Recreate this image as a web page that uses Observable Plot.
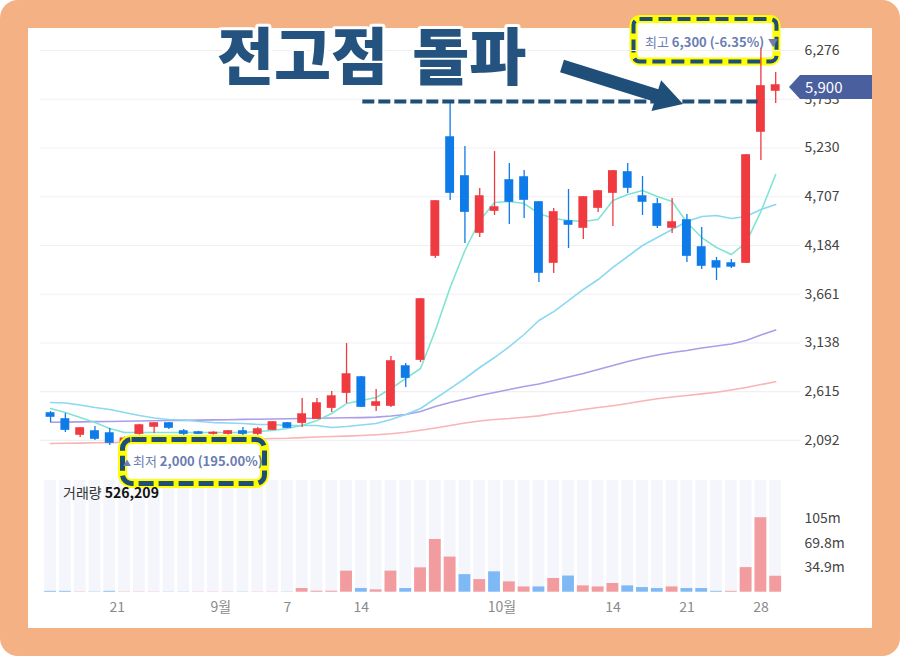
<!DOCTYPE html>
<html><head><meta charset="utf-8">
<script src="https://cdn.jsdelivr.net/npm/d3@7"></script>
<script src="https://cdn.jsdelivr.net/npm/@observablehq/plot@0.6"></script>
<style>
body{margin:0;background:#fff;}
#frame{position:relative;width:900px;height:656px;overflow:hidden;font-family:'Noto Sans CJK KR','Noto Sans',sans-serif;}
#orange{position:absolute;left:0;top:0;width:900px;height:656px;background:#f4b183;border-radius:18px;}
#inner{position:absolute;left:28px;top:28px;width:844px;height:600px;background:#fff;}
.layer{position:absolute;left:0;top:0;}
</style></head>
<body>
<div id="frame">
  <div id="orange"></div><div id="inner"></div>
  <svg id="under" class="layer" width="900" height="656"></svg>
  <div id="price" class="layer"></div>
  <div id="vol" class="layer" style="top:480px"></div>
  <svg id="over" class="layer" width="900" height="656"></svg>
</div>
<script>
// ---- data ----
const opens  = [2381,2317,2156,2188,2166,2040,2166,2242,2274,2188,2177,2166,2166,2188,2166,2209,2274,2284,2327,2445,2606,2767,2467,2467,2885,2960,4076,5342,4924,4323,4559,4881,4913,4645,4001,4441,4377,4591,4752,4967,4709,4624,4377,4452,4162,4012,3990,4001,5407,5847];
const highs  = [2402,2381,2231,2242,2220,2130,2265,2280,2285,2209,2190,2185,2200,2231,2231,2295,2285,2542,2542,2617,3132,2778,2639,2993,2918,3615,4667,5730,5246,4795,5192,5064,4988,4656,4581,4785,4710,4774,4988,5064,4924,4688,4688,4516,4377,4055,4033,5160,6300,6040];
const lows   = [2284,2177,2123,2091,2038,2000,2150,2166,2209,2145,2155,2150,2150,2145,2145,2199,2220,2231,2317,2392,2488,2445,2402,2445,2660,2928,4044,4666,4205,4269,4506,4409,4473,3787,3883,4151,4248,4538,4388,4742,4506,4366,4312,4001,3926,3808,3937,3990,5096,5707];
const closes = [2349,2209,2220,2113,2070,2110,2252,2274,2231,2166,2166,2172,2188,2166,2209,2285,2231,2370,2488,2563,2799,2456,2499,2939,2767,3604,4656,4752,4548,4709,4591,4656,4677,3894,4538,4409,4699,4763,4978,4806,4656,4398,4430,4076,3969,3950,3960,5149,5890,5900];
const volumes= [1.2,1.2,0.4,0.4,1.2,0.4,0.4,0.3,0.3,0.3,0.3,0.3,0.3,0.3,0.3,0.3,0.3,5.2,1.4,1.4,30,5.2,3.3,30,5.2,34.7,75,50,25,18,29,14.7,7.5,7.5,19.5,23,9,7.5,12.4,9,6.6,5.2,7.5,5.2,5.2,1.2,1.2,35,106,22.7];
const ma5   = [2435,2392,2338,2284,2220,2177,2177,2177,2177,2177,2177,2177,2177,2177,2188,2199,2220,2252,2306,2381,2488,2520,2553,2649,2757,2864,3272,3733,4130,4452,4645,4656,4634,4527,4473,4452,4441,4463,4666,4731,4774,4709,4656,4430,4269,4162,4087,4216,4548,4945];
const ma20  = [2499,2494,2472,2445,2424,2392,2360,2333,2317,2311,2295,2284,2279,2274,2263,2263,2252,2252,2252,2231,2242,2258,2274,2317,2370,2435,2542,2649,2757,2875,2982,3100,3229,3379,3475,3593,3712,3819,3948,4066,4184,4269,4355,4441,4495,4506,4473,4495,4570,4624];
const ma60  = [2287,2289,2291,2294,2296,2298,2301,2304,2306,2308,2310,2313,2315,2318,2320,2322,2325,2327,2330,2333,2335,2337,2342,2354,2370,2402,2456,2499,2537,2574,2606,2639,2671,2698,2735,2773,2810,2853,2896,2939,2977,3009,3036,3057,3084,3105,3127,3164,3223,3277];
const ma120 = [2060,2062,2064,2067,2069,2072,2076,2081,2085,2088,2092,2097,2100,2104,2108,2113,2116,2123,2129,2134,2139,2145,2154,2164,2180,2201,2225,2252,2279,2301,2317,2327,2341,2356,2381,2400,2424,2445,2465,2488,2515,2539,2558,2574,2592,2609,2633,2660,2692,2722];
const priceTicks = [2092,2615,3138,3661,4184,4707,5230,5753,6276];
const volTicks = [34.9,69.8,104.7];
const volTickLabels = ["34.9m","69.8m","105m"];
const dateTickPos = [4.5,11.5,16,21,30.5,38,43,48];
const dateTickLabels = ["21","9월","7","14","10월","14","21","28"];
const volumeLabel = "526,209";
const titleText = "전고점 돌파";
const prevHighIndex = 27;   // 전고점 candle
const lineStart = 21.1, lineEnd = 47.8; // span of the 전고점 dashed line (candle index)

// ---- derived rows ----
const rows = opens.map((o,i)=>({i, open:o, high:highs[i], low:lows[i], close:closes[i], vol:volumes[i],
  up: closes[i] >= o, volUp: i>0 ? closes[i] >= closes[i-1] : false}));
const RED="#ef3a40", BLUE="#0f7be9", NAVY="#1f4e79";
const font = "'Noto Sans CJK KR','Noto Sans',sans-serif";
const xDomain = [-0.68, 50];

const priceChart = Plot.plot({
  width:900, height:480, marginLeft:40, marginRight:110, marginTop:28, marginBottom:2,
  style:{background:"transparent", fontFamily:font, fontSize:"14px", color:"#444"},
  x:{domain:xDomain, axis:null},
  y:{domain:[1684,6512], axis:"right", ticks:priceTicks, tickFormat:d3.format(","), tickSize:0, tickPadding:14, label:null},
  marks:[
    Plot.ruleY(priceTicks,{stroke:"#eef0f5", strokeWidth:1.2, x1:xDomain[0], x2:50.7}),
    Plot.line(ma120,{x:(d,i)=>i, y:d=>d, stroke:"#f8b4b6", strokeWidth:1.6}),
    Plot.line(ma60,{x:(d,i)=>i, y:d=>d, stroke:"#ab9de9", strokeWidth:1.6}),
    Plot.line(ma20,{x:(d,i)=>i, y:d=>d, stroke:"#8ad9f0", strokeWidth:1.6}),
    Plot.line(ma5,{x:(d,i)=>i, y:d=>d, stroke:"#80e4d4", strokeWidth:1.6}),
    Plot.ruleX(rows,{x:"i", y1:"low", y2:"high", stroke:d=>d.up?RED:BLUE, strokeWidth:1.3}),
    Plot.rect(rows,{x1:d=>d.i-0.3, x2:d=>d.i+0.3, y1:"open", y2:"close", fill:d=>d.up?RED:BLUE, insetTop:-0.8, insetBottom:-0.8}),
    Plot.ruleY([highs[prevHighIndex]],{x1:lineStart, x2:lineEnd, stroke:NAVY, strokeWidth:4, strokeDasharray:"12,4"})
  ]
});
document.getElementById("price").appendChild(priceChart);

const volChart = Plot.plot({
  width:900, height:140, marginLeft:40, marginRight:110, marginTop:0, marginBottom:28.3,
  style:{background:"transparent", fontFamily:font, fontSize:"14px", color:"#444"},
  x:{domain:xDomain, ticks:dateTickPos, tickFormat:d=>dateTickLabels[dateTickPos.indexOf(d)], tickSize:0, tickPadding:10, label:null},
  y:{domain:[0,159], axis:"right", ticks:volTicks, tickFormat:d=>volTickLabels[volTicks.indexOf(d)], tickSize:0, tickPadding:14, label:null},
  marks:[
    Plot.rect(rows,{x1:d=>d.i-0.4, x2:d=>d.i+0.4, y1:0, y2:159, fill:"#f4f6fb"}),
    Plot.rect(rows,{x1:d=>d.i-0.4, x2:d=>d.i+0.4, y1:0, y2:"vol", fill:d=>d.volUp?"#f29ca0":"#7fb9f5"})
  ]
});
document.getElementById("vol").appendChild(volChart);
volChart.querySelectorAll('g[aria-label^="x-axis"]').forEach(g=>{g.setAttribute("fill","#8a8a8a");});

// ---- annotations ----
const fmt = d3.format(",");
const maxHigh = d3.max(highs), minLow = d3.min(lows), last = closes[closes.length-1];
const hiPct = ((last/maxHigh-1)*100).toFixed(2), loPct = ((last/minLow-1)*100).toFixed(2);
const ns = "http://www.w3.org/2000/svg";
function el(parent, tag, attrs, text){const e=document.createElementNS(ns,tag);for(const k in attrs)e.setAttribute(k,attrs[k]);if(text!=null)e.textContent=text;parent.appendChild(e);return e;}

const under = document.getElementById("under");
el(under,"rect",{x:633.5,y:19,width:143,height:42.5,rx:6,fill:"#fff",stroke:"#ffff00","stroke-width":8});
el(under,"rect",{x:633.5,y:19,width:143,height:42.5,rx:6,fill:"none",stroke:NAVY,"stroke-width":4,"stroke-dasharray":"13 6"});

const over = document.getElementById("over");
// high label text
const t1 = el(over,"text",{x:645,y:47,"font-size":13,fill:"#6b7db3","font-family":font});
el(t1,"tspan",{},"최고 ");
el(t1,"tspan",{"font-weight":"bold"},`${fmt(maxHigh)} (${hiPct}%)`);
el(t1,"tspan",{"font-size":10,dx:4},"▼");
// low box
el(over,"rect",{x:122.5,y:439.5,width:142,height:44,rx:9,fill:"#fff",stroke:"#ffff00","stroke-width":9});
el(over,"rect",{x:122.5,y:439.5,width:142,height:44,rx:9,fill:"none",stroke:NAVY,"stroke-width":5,"stroke-dasharray":"15 5"});
const t2 = el(over,"text",{x:123,y:466,"font-size":13,fill:"#6b7db3","font-family":font});
el(t2,"tspan",{"font-size":8},"▲");
el(t2,"tspan",{dx:2},"최저 ");
el(t2,"tspan",{"font-weight":"bold"},`${fmt(minLow)} (${loPct}%)`);
// volume label
const t3 = el(over,"text",{x:63,y:498,"font-size":14,fill:"#333","font-family":font});
el(t3,"tspan",{},"거래량 ");
el(t3,"tspan",{"font-weight":"bold",fill:"#111"},volumeLabel);
// current price tag
const yTag = priceChart.scale("y").apply(last) + 2;
el(over,"polygon",{points:`789,${yTag} 800,${yTag-12} 872,${yTag-12} 872,${yTag+12} 800,${yTag+12}`,fill:"#4a5f9e"});
el(over,"text",{x:805,y:yTag+5.5,"font-size":15,fill:"#fff","font-family":font},fmt(last));
// arrow
el(over,"line",{x1:562,y1:66,x2:658,y2:96,stroke:NAVY,"stroke-width":13});
el(over,"polygon",{points:"683,104 651.5,110.9 661.1,80.3",fill:NAVY});
// title
el(over,"text",{x:217,y:80,"font-size":62,"font-weight":900,fill:"#24537f",stroke:"#fff","stroke-width":6,"paint-order":"stroke","stroke-linejoin":"round","font-family":font,"word-spacing":"10"},titleText);
</script>
</body></html>
